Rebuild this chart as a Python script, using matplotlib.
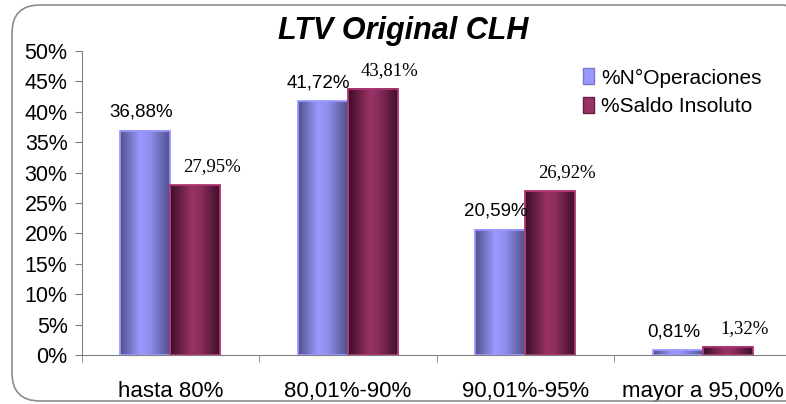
import numpy as np
import matplotlib
matplotlib.use('Agg')
import matplotlib.pyplot as plt
from matplotlib.patches import FancyBboxPatch, Patch
from matplotlib.colors import LinearSegmentedColormap

categories = ['hasta 80%', '80,01%-90%', '90,01%-95%', 'mayor a 95,00%']
series_names = ['%N°Operaciones', '%Saldo Insoluto']
ops = [36.88, 41.72, 20.59, 0.81]
saldo = [27.95, 43.81, 26.92, 1.32]
yticks = [0, 5, 10, 15, 20, 25, 30, 35, 40, 45, 50]

W, H = 786, 404
fig = plt.figure(figsize=(W / 100, H / 100), dpi=100)
ax = fig.add_axes([81.5 / W, 49 / H, 710 / W, 304 / H])

sans = ['Liberation Sans', 'DejaVu Sans']
serif = ['Liberation Serif', 'DejaVu Serif']

blue_cmap = LinearSegmentedColormap.from_list(
    'b', [(0, '#50508a'), (0.4, '#9a9aff'), (0.6, '#8f8fee'), (1, '#50508a')])
red_cmap = LinearSegmentedColormap.from_list(
    'r', [(0, '#3c0e28'), (0.45, '#9a3366'), (0.6, '#8c2e5c'), (1, '#3f0f2b')])

x = np.arange(len(categories))
bw = 50 / 177.5
grad = np.linspace(0, 1, 256).reshape(1, -1)

def draw(vals, offset, cmap, edge):
    bars = ax.bar(x + offset, vals, width=bw, fill=False, edgecolor=edge,
                  linewidth=1.3, zorder=3)
    for b in bars:
        x0 = b.get_x()
        ax.imshow(grad, extent=[x0, x0 + b.get_width(), 0, b.get_height()],
                  aspect='auto', cmap=cmap, zorder=2, interpolation='bilinear')
    return bars

draw(ops, -bw / 2, blue_cmap, '#9999ff')
draw(saldo, bw / 2, red_cmap, '#b03575')

def fmt(v):
    return f'{v:.2f}'.replace('.', ',') + '%'

for xi, v in zip(x, ops):
    ax.annotate(fmt(v), (xi - bw / 2, v), xytext=(-3, 10), textcoords='offset points',
                ha='center', va='baseline', fontsize=13.5, family=sans, color='black')
for xi, v in zip(x, saldo):
    ax.annotate(fmt(v), (xi + bw / 2, v), xytext=(12, 10), textcoords='offset points',
                ha='center', va='baseline', fontsize=13.5, family=serif, color='black')

ax.set_xlim(-0.5, 3.5)
ax.set_ylim(0, 50)
ax.set_yticks(yticks)
ax.set_yticklabels([f'{t}%' for t in yticks], family=sans, fontsize=15.5)
ax.set_xticks(x)
ax.set_xticklabels(categories, family=sans, fontsize=16)
ax.set_xticks(np.arange(-0.5, 4, 1), minor=True)
ax.tick_params(axis='x', which='major', length=0, pad=19)
ax.tick_params(axis='x', which='minor', length=5, color='#808080', direction='out')
ax.tick_params(axis='y', length=5, color='#808080', direction='out', pad=5)
for s in ['top', 'right']:
    ax.spines[s].set_visible(False)
for s in ['left', 'bottom']:
    ax.spines[s].set_color('#808080')
ax.set_facecolor('none')

fig.text(403 / W, 1 - 31 / H, 'LTV Original CLH', ha='center', va='center',
         fontsize=22, fontweight='bold', fontstyle='italic', family=sans)

handles = [Patch(facecolor='#9999ff', edgecolor='#7777cc'),
           Patch(facecolor='#993366', edgecolor='#661f44')]
fig.legend(handles, series_names, loc='upper left', bbox_to_anchor=(573 / W, 1 - 58 / H),
           frameon=False, prop={'family': sans, 'size': 15}, handlelength=0.5,
           handleheight=0.8, handletextpad=0.35, labelspacing=0.45, borderpad=0)

frame = FancyBboxPatch((12, 3), 800, 396, boxstyle='round,pad=0,rounding_size=28',
                       transform=None, facecolor='none', edgecolor='#8c8c8c', linewidth=1.2)
fig.add_artist(frame)

fig.savefig('out.png', dpi=100)
